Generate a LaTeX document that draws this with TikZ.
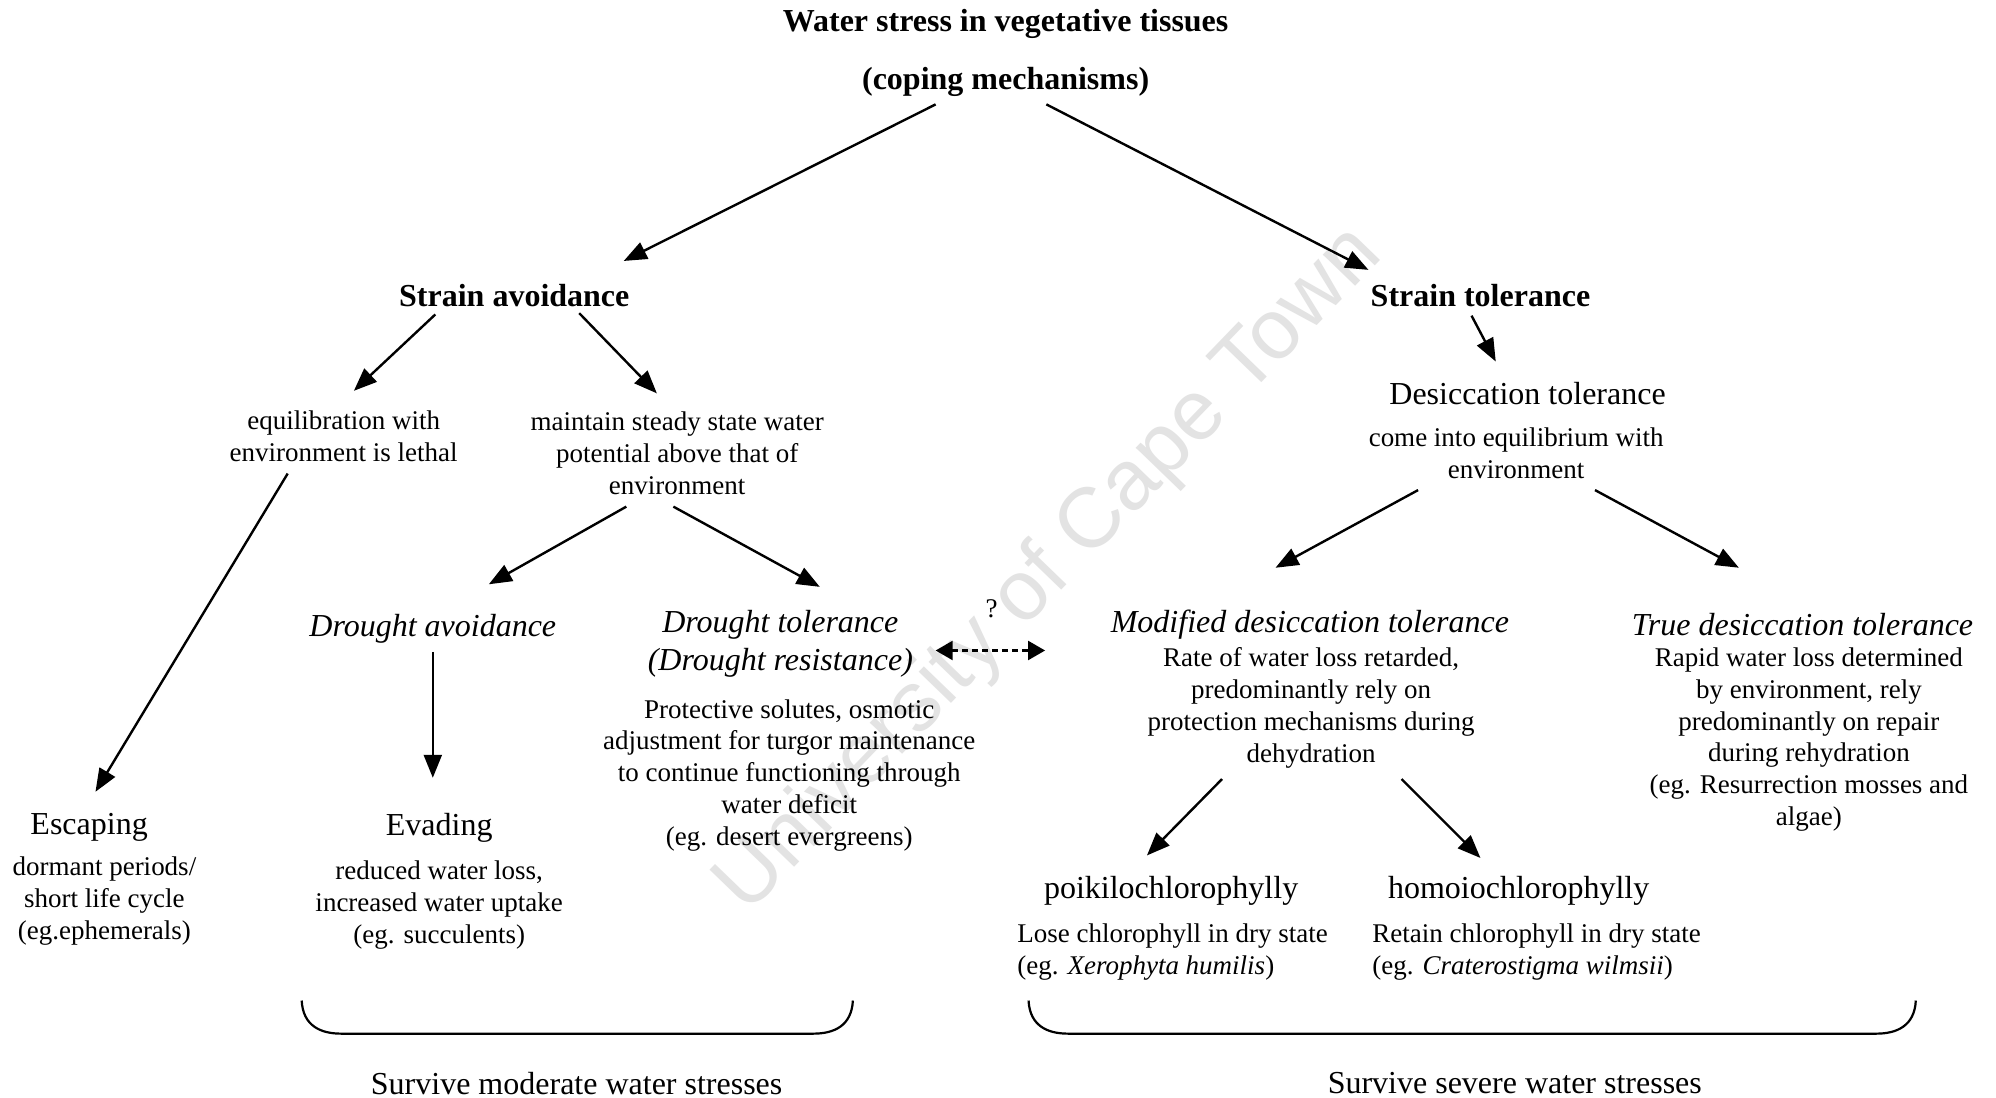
\documentclass[tikz,border=0pt]{standalone}
\usepackage{fontspec}
\setmainfont{Liberation Serif}
\newfontfamily\wmfont{Liberation Sans}
\usetikzlibrary{arrows.meta,calc}
\begin{document}
\begin{tikzpicture}[x=1.273pt,y=-1.273pt,
  body/.style={font=\fontsize{27}{31.8}\selectfont, align=center, inner sep=0pt},
  head/.style={font=\fontsize{32}{38}\selectfont, align=center, inner sep=0pt},
  bhead/.style={font=\fontsize{32}{38}\selectfont\bfseries, align=center, inner sep=0pt},
  ihead/.style={font=\fontsize{32}{38}\selectfont\itshape, align=center, inner sep=0pt},
  arr/.style={line width=2.4pt, -{Triangle[length=23pt,width=18pt]}},
  darr/.style={line width=2.2pt, dash pattern=on 6pt off 4pt, {Triangle[length=17pt,width=19pt]}-{Triangle[length=17pt,width=19pt]}},
  bracestyle/.style={line width=2.2pt}]
\useasboundingbox[fill=white] (0,0) rectangle (1568,862);

% watermark
\node[rotate=46, text=black!11, inner sep=0pt, font=\wmfont\fontsize{85}{85}\selectfont] (wm) at (825,448) {University of Cape Town};

% nodes
\node[bhead] (t1) at (790,19) {Water stress in vegetative tissues};
\node[bhead] (t2) at (790,64) {(coping mechanisms)};
\node[bhead] (sa) at (404,232) {Strain avoidance};
\node[bhead] (st) at (1163,232) {Strain tolerance};
\node[body] (eq) at (270,343) {equilibration with\\environment is lethal};
\node[body] (ms) at (532,356) {maintain steady state water\\potential above that of\\environment};
\node[head] (dth) at (1200,309) {Desiccation tolerance};
\node[body] (ce) at (1191,356) {come into equilibrium with\\environment};
\node[ihead] (da) at (340,494) {Drought avoidance};
\node[ihead] (dtol) at (613,506) {Drought tolerance\\(Drought resistance)};
\node[body] (ps) at (620,609) {Protective solutes, osmotic\\adjustment for turgor maintenance\\to continue functioning through\\water deficit\\(eg. desert evergreens)};
\node[body] (q) at (779,478) {?};
\node[ihead] (mdt) at (1029,491) {Modified desiccation tolerance};
\node[body] (rw) at (1030,556) {Rate of water loss retarded,\\predominantly rely on\\protection mechanisms during\\dehydration};
\node[ihead] (tdt) at (1416,491) {True desiccation tolerance};
\node[body] (rp) at (1421,581) {Rapid water loss determined\\by environment, rely\\predominantly on repair\\during rehydration\\(eg. Resurrection mosses and\\algae)};
\node[head] (esc) at (70,650) {Escaping};
\node[body] (dp) at (82,708) {dormant periods/\\short life cycle\\(eg.ephemerals)};
\node[head] (ev) at (345,650) {Evading};
\node[body] (rwl) at (345,711) {reduced water loss,\\increased water uptake\\(eg. succulents)};
\node[head] (poik) at (920,700) {poikilochlorophylly};
\node[head] (homo) at (1193,700) {homoiochlorophylly};
\node[body, align=left, anchor=west] (lose) at (799,748) {Lose chlorophyll in dry state\\(eg. \textit{Xerophyta humilis})};
\node[body, align=left, anchor=west] (ret) at (1078,748) {Retain chlorophyll in dry state\\(eg. \textit{Craterostigma wilmsii})};
\node[head] (sm) at (453,851) {Survive moderate water stresses};
\node[head] (ss) at (1190,851) {Survive severe water stresses};

% connectors
\draw[arr] ($(t2)+(-55,18)$) -- ($(sa)+(86,-27)$);
\draw[arr] ($(t2)+(32,18)$) -- ($(st)+(-88,-20)$);
\draw[arr] ($(sa)+(-62,15)$) -- ($(eq)+(8,-36)$);
\draw[arr] ($(sa)+(51,14)$) -- ($(ms)+(-16,-47)$);
\draw[arr] ($(st)+(-7,16)$) -- ($(dth)+(-25,-25)$);
\draw[arr] ($(eq)+(-44,29)$) -- ($(esc)+(5,-28)$);
\draw[arr] ($(ms)+(-40,42)$) -- ($(da)+(44,-35)$);
\draw[arr] ($(ms)+(-3,42)$) -- ($(dtol)+(31,-45)$);
\draw[arr] ($(ce)+(-77,29)$) -- ($(mdt)+(-27,-45)$);
\draw[arr] ($(ce)+(62,29)$) -- ($(tdt)+(-50,-45)$);
\draw[arr] ($(da)+(0,18)$) -- ($(ev)+(-5,-39)$);
\draw[arr] ($(rw)+(-70,56)$) -- ($(poik)+(-19,-28)$);
\draw[arr] ($(rw)+(71,56)$) -- ($(homo)+(-30,-26)$);
\draw[darr] ($(dtol)+(122,5)$) -- ($(mdt)+(-208,20)$);

% braces
\draw[bracestyle] (237,786) .. controls (238,806) and (252,812) .. (268,812) -- (639,812) .. controls (655,812) and (669,806) .. (670,786);
\draw[bracestyle] (808,786) .. controls (809,806) and (823,812) .. (839,812) -- (1474,812) .. controls (1490,812) and (1504,806) .. (1505,786);
\end{tikzpicture}
\end{document}
